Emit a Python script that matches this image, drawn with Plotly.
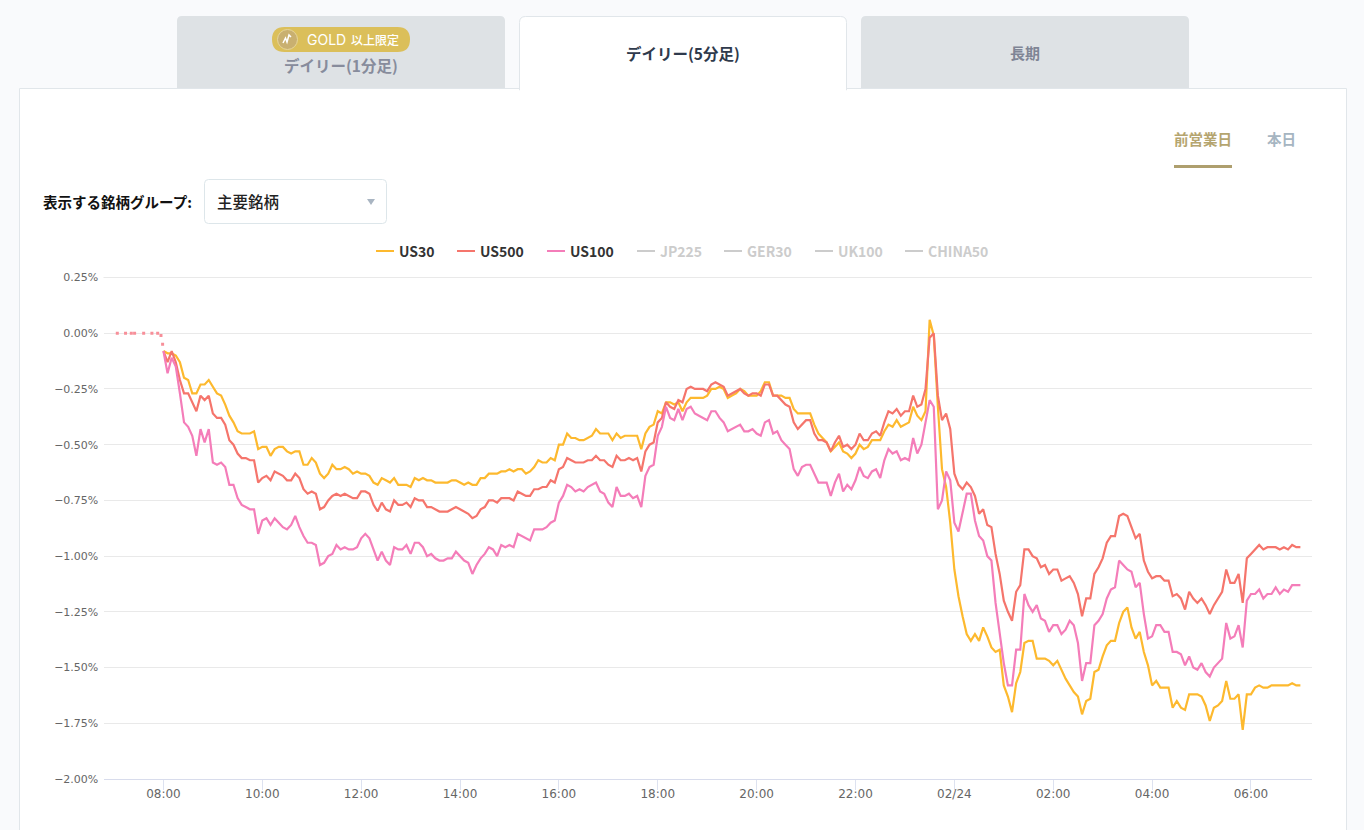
import pandas as pd
import plotly.graph_objects as go

W = 1364
H = 830
FONT = "Noto Sans CJK JP"

# percent change, 5 minute bars from 08:00 to 07:00 the next day
us30 = [
    -0.08,-0.09,-0.09,-0.10,-0.13,-0.20,-0.21,-0.27,-0.27,-0.23,
    -0.23,-0.21,-0.24,-0.27,-0.28,-0.32,-0.37,-0.40,-0.44,-0.45,
    -0.45,-0.45,-0.44,-0.52,-0.51,-0.51,-0.55,-0.52,-0.51,-0.51,
    -0.53,-0.54,-0.53,-0.53,-0.59,-0.59,-0.56,-0.58,-0.63,-0.65,
    -0.63,-0.59,-0.61,-0.61,-0.60,-0.61,-0.63,-0.62,-0.63,-0.63,
    -0.64,-0.67,-0.68,
    -0.65,-0.66,-0.67,-0.65,-0.68,-0.68,-0.68,-0.69,-0.65,-0.66,
    -0.65,-0.66,-0.66,-0.67,-0.67,-0.67,-0.67,-0.66,-0.66,-0.67,
    -0.68,-0.67,-0.68,-0.68,-0.65,-0.65,-0.63,-0.63,-0.63,-0.62,
    -0.62,-0.61,-0.62,-0.61,-0.61,-0.63,-0.62,-0.60,-0.57,-0.58,
    -0.58,-0.56,-0.57,-0.50,-0.50,-0.45,-0.47,-0.47,-0.48,-0.48,
    -0.47,-0.46,-0.43,-0.45,-0.45,-0.45,-0.48,-0.45,-0.47,-0.46,
    -0.46,-0.46,-0.46,-0.52,-0.45,-0.42,-0.41,-0.35,-0.36,-0.31,
    -0.31,-0.32,-0.31,-0.35,-0.31,
    -0.29,-0.29,-0.29,-0.29,-0.28,-0.25,-0.25,-0.24,-0.25,-0.29,
    -0.28,-0.27,-0.25,-0.26,-0.28,-0.28,-0.28,-0.26,-0.22,-0.22,
    -0.28,-0.28,-0.28,-0.29,-0.29,-0.34,-0.36,-0.36,-0.36,-0.36,
    -0.41,-0.45,-0.47,-0.49,-0.53,-0.51,-0.49,-0.53,-0.54,-0.56,
    -0.54,-0.50,-0.52,-0.51,-0.48,-0.48,-0.48,-0.44,-0.41,-0.42,
    -0.39,-0.42,-0.41,-0.40,-0.33,-0.37,-0.39,-0.35,
    0.06,-0.01,-0.33,-0.61,-0.69,-0.85,-1.06,-1.18,-1.27,-1.35,
    -1.38,-1.35,-1.38,-1.32,-1.36,-1.41,-1.43,-1.42,-1.58,-1.63,
    -1.70,-1.57,-1.52,-1.39,-1.38,-1.38,-1.46,-1.46,-1.46,-1.47,
    -1.49,-1.47,-1.51,-1.55,-1.58,-1.61,-1.63,-1.71,-1.65,-1.64,
    -1.52,-1.51,-1.45,-1.40,-1.38,-1.38,-1.30,
    -1.25,-1.23,-1.32,-1.37,-1.34,-1.43,-1.49,-1.58,-1.56,-1.59,
    -1.59,-1.59,-1.68,-1.65,-1.68,-1.69,-1.62,-1.62,-1.62,-1.63,
    -1.67,-1.74,-1.68,-1.67,-1.65,-1.56,-1.64,-1.64,-1.62,-1.78,
    -1.62,-1.62,-1.59,-1.58,-1.59,-1.59,-1.58,-1.58,-1.58,-1.58,
    -1.58,-1.57,-1.58,-1.58,
]
us500 = [
    -0.08,-0.13,-0.08,-0.13,-0.21,-0.27,-0.27,-0.31,-0.35,-0.28,
    -0.30,-0.28,-0.36,-0.38,-0.38,-0.41,-0.48,-0.50,-0.54,-0.56,
    -0.56,-0.57,-0.57,-0.67,-0.65,-0.64,-0.66,-0.62,-0.63,-0.64,
    -0.66,-0.66,-0.63,-0.65,-0.70,-0.72,-0.71,-0.72,-0.79,-0.78,
    -0.75,-0.73,-0.72,-0.73,-0.72,-0.73,-0.74,-0.74,-0.71,-0.71,
    -0.72,-0.77,-0.80,
    -0.76,-0.79,-0.80,-0.75,-0.77,-0.77,-0.76,-0.78,-0.74,-0.75,
    -0.75,-0.78,-0.78,-0.79,-0.80,-0.80,-0.80,-0.79,-0.78,-0.79,
    -0.80,-0.81,-0.83,-0.82,-0.79,-0.78,-0.75,-0.75,-0.76,-0.74,
    -0.74,-0.74,-0.75,-0.71,-0.72,-0.73,-0.73,-0.70,-0.70,-0.69,
    -0.69,-0.66,-0.67,-0.61,-0.60,-0.56,-0.57,-0.58,-0.58,-0.58,
    -0.57,-0.57,-0.55,-0.57,-0.57,-0.59,-0.60,-0.55,-0.57,-0.57,
    -0.56,-0.57,-0.56,-0.62,-0.53,-0.50,-0.49,-0.40,-0.38,-0.31,
    -0.33,-0.34,-0.30,-0.31,-0.25,
    -0.24,-0.25,-0.25,-0.25,-0.26,-0.23,-0.22,-0.23,-0.24,-0.28,
    -0.27,-0.26,-0.25,-0.27,-0.28,-0.27,-0.27,-0.28,-0.23,-0.23,
    -0.28,-0.28,-0.30,-0.32,-0.33,-0.40,-0.43,-0.41,-0.39,-0.39,
    -0.45,-0.48,-0.48,-0.49,-0.53,-0.49,-0.46,-0.51,-0.50,-0.52,
    -0.50,-0.45,-0.48,-0.48,-0.45,-0.44,-0.46,-0.40,-0.35,-0.36,
    -0.34,-0.37,-0.35,-0.35,-0.28,-0.33,-0.32,-0.25,
    -0.02,0.00,-0.28,-0.39,-0.36,-0.43,-0.63,-0.68,-0.70,-0.67,
    -0.69,-0.73,-0.81,-0.79,-0.86,-0.87,-0.99,-1.08,-1.20,-1.25,
    -1.29,-1.16,-1.13,-0.97,-0.97,-1.00,-1.01,-1.05,-1.04,-1.08,
    -1.06,-1.06,-1.11,-1.10,-1.09,-1.12,-1.17,-1.27,-1.19,-1.19,
    -1.08,-1.05,-1.01,-0.94,-0.91,-0.91,-0.82,
    -0.81,-0.82,-0.87,-0.92,-0.90,-1.02,-1.07,-1.10,-1.09,-1.09,
    -1.11,-1.11,-1.18,-1.17,-1.19,-1.24,-1.16,-1.19,-1.21,-1.19,
    -1.22,-1.26,-1.22,-1.19,-1.16,-1.06,-1.12,-1.12,-1.08,-1.21,
    -1.01,-0.99,-0.97,-0.95,-0.97,-0.96,-0.96,-0.96,-0.97,-0.96,
    -0.97,-0.95,-0.96,-0.96,
]
us100 = [
    -0.08,-0.18,-0.11,-0.15,-0.27,-0.40,-0.42,-0.46,-0.55,-0.43,
    -0.49,-0.43,-0.58,-0.59,-0.58,-0.60,-0.68,-0.68,-0.74,-0.77,
    -0.78,-0.79,-0.79,-0.90,-0.84,-0.83,-0.86,-0.83,-0.85,-0.87,
    -0.88,-0.86,-0.82,-0.87,-0.91,-0.94,-0.94,-0.95,-1.04,-1.03,
    -1.00,-0.99,-0.95,-0.97,-0.96,-0.97,-0.97,-0.96,-0.92,-0.90,
    -0.92,-0.97,-1.02,
    -0.98,-1.02,-1.04,-0.96,-0.97,-0.97,-0.95,-0.99,-0.94,-0.94,
    -0.96,-1.00,-0.99,-1.01,-1.02,-1.02,-1.01,-1.01,-0.98,-1.00,
    -1.02,-1.03,-1.08,-1.04,-1.01,-0.99,-0.96,-0.97,-1.00,-0.95,
    -0.96,-0.95,-0.96,-0.90,-0.91,-0.92,-0.93,-0.88,-0.88,-0.88,
    -0.87,-0.85,-0.84,-0.76,-0.73,-0.68,-0.69,-0.71,-0.70,-0.71,
    -0.69,-0.68,-0.67,-0.71,-0.72,-0.76,-0.78,-0.69,-0.73,-0.73,
    -0.72,-0.74,-0.73,-0.78,-0.64,-0.60,-0.59,-0.46,-0.42,-0.33,
    -0.38,-0.39,-0.34,-0.39,-0.34,
    -0.33,-0.36,-0.37,-0.38,-0.39,-0.35,-0.35,-0.38,-0.40,-0.44,
    -0.43,-0.42,-0.41,-0.44,-0.44,-0.43,-0.45,-0.46,-0.40,-0.39,
    -0.45,-0.44,-0.48,-0.50,-0.52,-0.61,-0.64,-0.60,-0.59,-0.59,
    -0.63,-0.67,-0.67,-0.67,-0.73,-0.67,-0.63,-0.71,-0.68,-0.70,
    -0.66,-0.60,-0.64,-0.65,-0.62,-0.61,-0.65,-0.57,-0.52,-0.54,
    -0.53,-0.57,-0.56,-0.57,-0.47,-0.54,-0.50,-0.40,
    -0.30,-0.33,-0.79,-0.75,-0.62,-0.66,-0.85,-0.89,-0.81,-0.72,
    -0.72,-0.84,-0.91,-0.93,-1.00,-1.02,-1.21,-1.35,-1.48,-1.58,
    -1.58,-1.42,-1.42,-1.17,-1.22,-1.25,-1.22,-1.28,-1.29,-1.34,
    -1.31,-1.31,-1.35,-1.33,-1.29,-1.31,-1.39,-1.56,-1.48,-1.48,
    -1.31,-1.29,-1.26,-1.19,-1.15,-1.14,-1.02,
    -1.04,-1.06,-1.07,-1.14,-1.12,-1.26,-1.37,-1.36,-1.31,-1.31,
    -1.34,-1.34,-1.43,-1.43,-1.44,-1.49,-1.45,-1.50,-1.51,-1.48,
    -1.52,-1.54,-1.50,-1.48,-1.46,-1.30,-1.37,-1.36,-1.31,-1.41,
    -1.20,-1.17,-1.17,-1.15,-1.19,-1.17,-1.17,-1.14,-1.17,-1.15,
    -1.16,-1.13,-1.13,-1.13,
]
# scattered prints before the session opens
pre_times = ["07:04", "07:14", "07:21", "07:25", "07:36", "07:46", "07:53", "07:57", "07:59"]
pre_values = [0.0, 0.0, 0.0, 0.0, 0.0, 0.0, 0.0, -0.01, -0.05]

y_ticks = [0.25, 0.0, -0.25, -0.5, -0.75, -1.0, -1.25, -1.5, -1.75, -2.0]
y_labels = ["0.25%", "0.00%", "−0.25%", "−0.50%", "−0.75%", "−1.00%", "−1.25%", "−1.50%", "−1.75%", "−2.00%"]
x_labels = ["08:00", "10:00", "12:00", "14:00", "16:00", "18:00", "20:00",
            "22:00", "02/24", "02:00", "04:00", "06:00"]
legend_on = ["US30", "US500", "US100"]
legend_off = ["JP225", "GER30", "UK100", "CHINA50"]

if not len(us30) == len(us500) == len(us100) == 277:
    raise ValueError(f"{len(us30)} {len(us500)} {len(us100)}")

times = pd.date_range("2021-02-23 08:00", periods=277, freq="5min")
tick_times = pd.date_range("2021-02-23 08:00", periods=12, freq="2h")
pre_x = ["2021-02-23 " + t for t in pre_times]

YELLOW = "#fdb92e"
SALMON = "#f5756c"
PINK = "#f47db9"
GRID = "#e9e9e9"


def px(x):
    return x / W


def py(y):
    return 1 - y / H


def rect(x0, y0, x1, y1, fill, line=None):
    return dict(type="rect", xref="paper", yref="paper", x0=px(x0), x1=px(x1), y0=py(y0), y1=py(y1),
                fillcolor=fill, line=dict(color=line or fill, width=1 if line else 0), layer="below")


def round_path(x0, y0, x1, y1, r, fill, line=None, bottom=True):
    # rounded box, top corners only when bottom is False
    b = r if bottom else 0
    d = (f"M{px(x0)},{py(y0 + r)} Q{px(x0)},{py(y0)} {px(x0 + r)},{py(y0)} "
         f"L{px(x1 - r)},{py(y0)} Q{px(x1)},{py(y0)} {px(x1)},{py(y0 + r)} "
         f"L{px(x1)},{py(y1 - b)} Q{px(x1)},{py(y1)} {px(x1 - b)},{py(y1)} "
         f"L{px(x0 + b)},{py(y1)} Q{px(x0)},{py(y1)} {px(x0)},{py(y1 - b)} Z")
    return dict(type="path", xref="paper", yref="paper", path=d, fillcolor=fill,
                line=dict(color=line or fill, width=1 if line else 0), layer="below")


def label(text, x, y, size, color, anchor="center", weight=400, family=FONT):
    return dict(text=text, x=px(x), y=py(y), xref="paper", yref="paper", showarrow=False,
                xanchor=anchor, yanchor="middle", align="left",
                font=dict(family=family, size=size, color=color, weight=weight))


def hline(x0, x1, y, color, width):
    return dict(type="line", xref="paper", yref="paper", x0=px(x0), x1=px(x1), y0=py(y), y1=py(y),
                line=dict(color=color, width=width), layer="below")


shapes = [
    # tabs and card
    round_path(177, 16, 505, 90, 5, "#dee2e5", bottom=False),
    round_path(861, 16, 1189, 90, 5, "#dee2e5", bottom=False),
    rect(19.5, 88.5, 1346.5, 835, "#ffffff", "#e1e6ea"),
    round_path(519.5, 16.5, 846.5, 90, 6, "#ffffff", "#e1e6ea", bottom=False),
    rect(520, 86, 846, 92, "#ffffff"),
    # gold badge
    round_path(272, 27, 410, 52, 12.5, "#dbbf5a"),
    dict(type="circle", xref="paper", yref="paper", x0=px(277.5), x1=px(297.5), y0=py(29.5), y1=py(49.5),
         fillcolor="#c9b070", line=dict(color="#e6d59a", width=1), layer="below"),
    dict(type="path", xref="paper", yref="paper", layer="below", fillcolor="rgba(0,0,0,0)",
         path=(f"M{px(283)},{py(43)} L{px(285.5)},{py(38)} L{px(287)},{py(42)} "
               f"L{px(289)},{py(35)} L{px(291)},{py(37)}"),
         line=dict(color="#ffffff", width=1.5)),
    # period switch underline
    rect(1174, 165, 1232, 168, "#ae9f6e"),
    # select box
    round_path(204.5, 179.5, 386.5, 223.5, 4, "#ffffff", "#dde6ea"),
    dict(type="path", xref="paper", yref="paper", layer="below", fillcolor="#a9b5c2",
         path=f"M{px(367)},{py(199)} L{px(375)},{py(199)} L{px(371)},{py(205)} Z", line=dict(width=0)),
    # plotly leaves out the grid line on the top edge
    hline(103.5, 1312, 277.5, GRID, 1),
]

annotations = [
    label("GOLD", 326.5, 39.5, 14, "#ffffff", weight=400, family="Inter"),
    label("以上限定", 375.5, 39, 12, "#ffffff", weight=500),
    label("デイリー(1分足)", 341, 65, 15.5, "#878c9c", weight=700),
    label("デイリー(5分足)", 683, 52.5, 15.5, "#2f3a4c", weight=700),
    label("長期", 1025, 52.5, 15, "#7f8595", weight=700),
    label("前営業日", 1203, 138.5, 14.5, "#b5a56f", weight=700),
    label("本日", 1281, 138.5, 14.5, "#a6b5c1", weight=700),
    label("表示する銘柄グループ:", 41, 201.5, 14.5, "#111111", anchor="left", weight=700),
    label("主要銘柄", 215, 201, 15.5, "#222222", anchor="left", weight=500),
]

# legend row, drawn by hand because the line keys are shorter than plotly allows
key_starts = [376, 457, 547, 637, 724, 815, 905]
key_colors = [YELLOW, SALMON, PINK, "#cccccc", "#cccccc", "#cccccc", "#cccccc"]
for name, start, color in zip(legend_on + legend_off, key_starts, key_colors):
    shapes.append(hline(start, start + 18, 251, color, 2))
    text_color = "#333333" if name in legend_on else "#cccccc"
    annotations.append(label(name, start + 21, 251, 14, text_color, anchor="left", weight=700))

fig = go.Figure()
fig.add_trace(go.Scatter(x=times, y=us30, mode="lines", name="US30", line=dict(color=YELLOW, width=2.2)))
fig.add_trace(go.Scatter(x=times, y=us500, mode="lines", name="US500", line=dict(color=SALMON, width=2.2)))
fig.add_trace(go.Scatter(x=times, y=us100, mode="lines", name="US100", line=dict(color=PINK, width=2.2)))
fig.add_trace(go.Scatter(x=pre_x, y=pre_values, mode="markers", name="pre",
                         marker=dict(color="#f78f99", size=3, symbol="square")))

# one hour on the axis is about 49.43px, plot spans 103.5 to 1312
x_start = pd.Timestamp("2021-02-23 06:47:15")
x_end = pd.Timestamp("2021-02-24 07:14:06")

fig.update_layout(
    width=W, height=H,
    margin=dict(l=0, r=0, t=0, b=0, autoexpand=False),
    paper_bgcolor="#f9fafc",
    plot_bgcolor="rgba(0,0,0,0)",
    showlegend=False,
    font=dict(family=FONT),
    shapes=shapes,
    annotations=annotations,
    xaxis=dict(
        domain=[px(103.5), px(1312)],
        range=[x_start, x_end],
        type="date",
        tickmode="array",
        tickvals=tick_times,
        ticktext=x_labels,
        ticks="outside",
        ticklen=10,
        tickcolor="#dde2f0",
        tickwidth=1,
        ticklabelstandoff=-6,
        showline=True,
        linecolor="#d8dcec",
        linewidth=1,
        showgrid=False,
        zeroline=False,
        tickfont=dict(family="DejaVu Sans", size=12, color="#666666"),
    ),
    yaxis=dict(
        domain=[py(779), py(277.5)],
        range=[-2.0, 0.25],
        tickmode="array",
        tickvals=y_ticks,
        ticktext=y_labels,
        ticks="outside",
        ticklen=2,
        tickcolor="rgba(0,0,0,0)",
        showgrid=True,
        gridcolor=GRID,
        gridwidth=1,
        zeroline=False,
        showline=False,
        tickfont=dict(family="DejaVu Sans", size=11, color="#666666"),
    ),
)

fig.write_html("out.html", config={"displayModeBar": False},
               post_script="document.body.style.margin='0';document.body.style.overflow='hidden';")
